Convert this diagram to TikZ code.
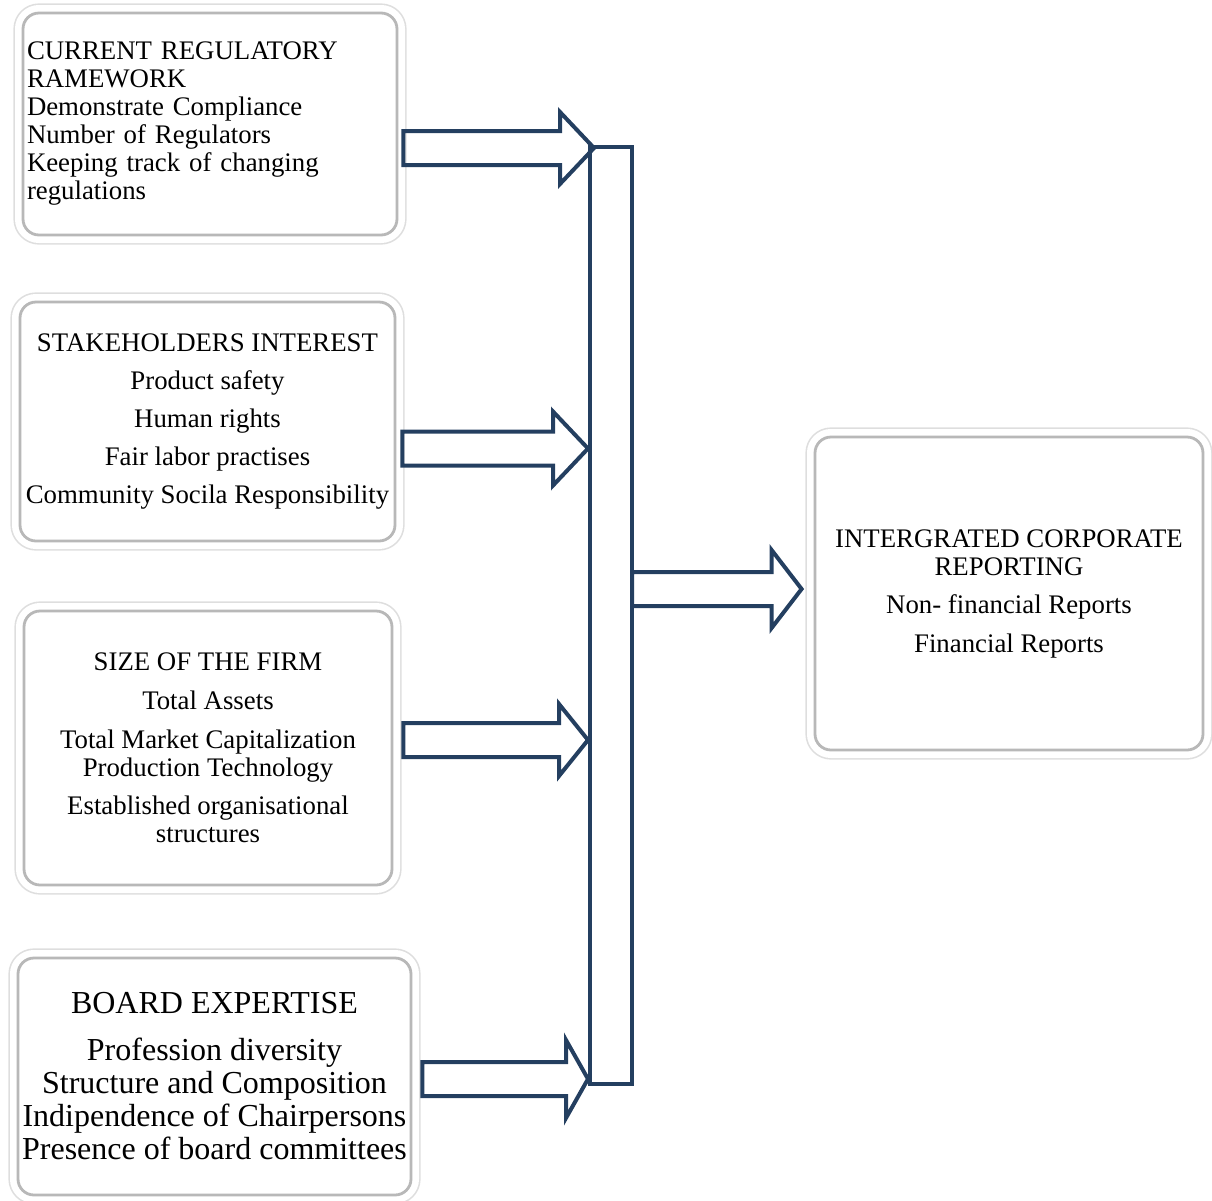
\documentclass[tikz,border=0pt]{standalone}
\usepackage{fontspec}
\setmainfont{Liberation Serif}
\usetikzlibrary{calc, positioning}
\definecolor{arrowblue}{RGB}{36,63,96}

\begin{document}
\begin{tikzpicture}[x=0.5pt, y=-0.5pt,
    factor/.style={draw=black!28, line width=1.4pt, rounded corners=8pt, fill=white,
      preaction={draw=black!13, line width=0.8pt, double=white, double distance=8pt},
      inner sep=2pt, font=\fontsize{13.4}{14}\selectfont, align=center},
    fat/.style 2 args={draw=arrowblue, line width=2pt, line join=miter,
      to path={let \p1=(\tikztostart), \p2=(\tikztotarget) in
        (\x1,\y1-8.5pt) -- (\x2-#1,\y1-8.5pt) -- (\x2-#1,\y1-#2) -- (\x2,\y1)
        -- (\x2-#1,\y1+#2) -- (\x2-#1,\y1+8.5pt) -- (\x1,\y1+8.5pt) -- cycle}}]
      \useasboundingbox (0,0) rectangle (1212,1201);

      \node[factor, minimum width=187pt, minimum height=111pt, text width=183pt, align=left] (reg) at (210,124)
        {CURRENT REGULATORY\\RAMEWORK\\Demonstrate Compliance\\Number of Regulators\\Keeping track of changing\\regulations};
      \node[factor, minimum width=187.5pt, minimum height=119.5pt] (stake) at (207.5,421.5)
        {STAKEHOLDERS INTEREST\\[5pt]Product safety\\[5pt]Human rights\\[5pt]Fair labor practises\\[5pt]Community Socila Responsibility};
      \node[factor, minimum width=184pt, minimum height=137pt] (size) at (208,748)
        {SIZE OF THE FIRM\\[5.5pt]Total Assets\\[5.5pt]Total Market Capitalization\\Production Technology\\[5pt]Established organisational\\structures};
      \node[factor, minimum width=196.5pt, minimum height=118.5pt, inner sep=1pt, font=\fontsize{16}{16.5}\selectfont] (board) at (214.5,1076.5)
        {BOARD EXPERTISE\\[7pt]Profession diversity\\Structure and Composition\\Indipendence of Chairpersons\\Presence of board committees};
      \node[factor, minimum width=194pt, minimum height=156.5pt] (icr) at (1009,593.5)
        {INTERGRATED CORPORATE\\REPORTING\\[5pt]Non- financial Reports\\[5.5pt]Financial Reports};

      \node[draw=arrowblue, line width=2pt, minimum width=21pt, minimum height=468.5pt, inner sep=0pt] (hub) at (611,615.5) {};

      \coordinate (s1) at ([xshift=2.5pt,yshift=-12pt]reg.east);
      \coordinate (s2) at ([xshift=3pt,yshift=-13.5pt]stake.east);
      \coordinate (s3) at ([xshift=5pt,yshift=4pt]size.east);
      \coordinate (s4) at ([xshift=5pt,yshift=-1.25pt]board.east);
      \coordinate (s5) at ([xshift=-1pt,yshift=13.25pt]hub.east);

      \draw[fat={17pt}{18pt}] (s1) to ($(s1 -| hub.west)+(6,0)$);
      \draw[fat={17.5pt}{18.5pt}] (s2) to (s2 -| hub.west);
      \draw[fat={14.5pt}{18pt}] (s3) to (s3 -| hub.west);
      \draw[fat={11pt}{19.5pt}] (s4) to (s4 -| hub.west);
      \draw[fat={15pt}{19.5pt}] (s5) to ($(s5 -| icr.west)+(-12,0)$);
    \end{tikzpicture}
\end{document}
